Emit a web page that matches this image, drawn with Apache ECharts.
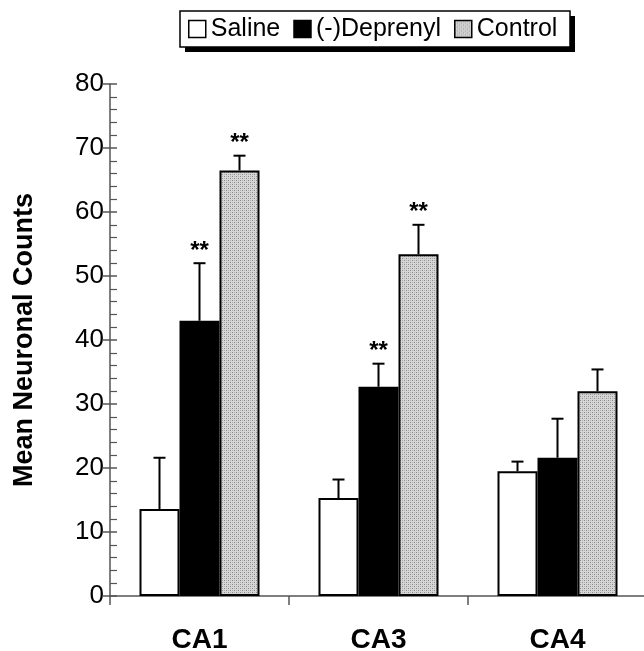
<!DOCTYPE html>
<html><head><meta charset="utf-8">
<script src="https://cdn.jsdelivr.net/npm/echarts@6/dist/echarts.min.js"></script>
<style>html,body{margin:0;padding:0;background:#fff}#c{width:644px;height:651px}</style>
</head><body><div id="c"></div>
<script>
// ---- data ----
const categories = ['CA1', 'CA3', 'CA4'];
const seriesNames = ['Saline', '(-)Deprenyl', 'Control'];
const salineMean = [13.6, 15.3, 19.5];
const salineErr = [8.0, 2.9, 1.5];
const deprenylMean = [43.0, 32.7, 21.6];
const deprenylErr = [9.0, 3.6, 6.1];
const controlMean = [66.5, 53.4, 32.0];
const controlErr = [2.3, 4.6, 3.4];
const salineSig = ['', '', ''];
const deprenylSig = ['**', '**', ''];
const controlSig = ['**', '**', ''];
const yMin = 0, yMax = 80, yInterval = 10;

// ---- styling ----
const FONT = '"Liberation Sans", Arial, sans-serif';
const BAR_W = 40;
function makePattern() {
  const c = document.createElement('canvas');
  c.width = 4; c.height = 4;
  const g = c.getContext('2d');
  g.fillStyle = '#d6d6d6'; g.fillRect(0, 0, 4, 4);
  g.fillStyle = '#8c8c8c'; g.fillRect(0, 0, 1, 1); g.fillRect(2, 2, 1, 1);
  g.fillStyle = '#b2b2b2'; g.fillRect(2, 0, 1, 1); g.fillRect(0, 2, 1, 1);
  return c;
}
const fills = ['#ffffff', '#000000', { image: makePattern(), repeat: 'repeat' }];
const means = [salineMean, deprenylMean, controlMean];
const errs = [salineErr, deprenylErr, controlErr];
const sigs = [salineSig, deprenylSig, controlSig];

const chart = echarts.init(document.getElementById('c'), null, { renderer: 'canvas' });

const barSeries = seriesNames.map((n, i) => ({
  name: n, type: 'bar', barWidth: BAR_W, barGap: '0%',
  data: means[i],
  itemStyle: { color: fills[i], borderColor: '#000', borderWidth: 2 },
  z: 2
}));

const errSeries = seriesNames.map((n, i) => ({
  name: n + ' err', type: 'custom',
  data: categories.map((c, k) => [k, means[i][k], errs[i][k]]),
  encode: { x: 0, y: 1 },
  z: 5,
  renderItem: function (params, api) {
    const ci = api.value(0), v = api.value(1), e = api.value(2);
    const base = api.coord([ci, v]);
    const top = api.coord([ci, v + e]);
    const x = base[0] + (i - 1) * BAR_W;
    const children = [
      { type: 'line', shape: { x1: x, y1: base[1], x2: x, y2: top[1] }, style: { stroke: '#000', lineWidth: 2 } },
      { type: 'line', shape: { x1: x - 6, y1: top[1], x2: x + 6, y2: top[1] }, style: { stroke: '#000', lineWidth: 2 } }
    ];
    const s = sigs[i][params.dataIndex];
    if (s) {
      children.push({ type: 'text', style: { text: s, x: x, y: top[1] - 12, align: 'center', verticalAlign: 'middle', font: 'bold 24px ' + FONT, fill: '#000' } });
    }
    return { type: 'group', children: children };
  }
}));

chart.setOption({
  animation: false,
  backgroundColor: '#fff',
  textStyle: { fontFamily: FONT },
  graphic: [
    { type: 'rect', z: 0, shape: { x: 185, y: 16, width: 390, height: 36 }, style: { fill: '#000' } },
    { type: 'rect', z: 1, shape: { x: 180, y: 11, width: 390, height: 36 }, style: { fill: '#fff', stroke: '#000', lineWidth: 1.5 } }
  ],
  grid: { left: 110, right: -3, top: 84, bottom: 55, containLabel: false, outerBoundsMode: 'none' },
  legend: {
    data: seriesNames, left: 188, top: 16, padding: 0, itemGap: 13, z: 10,
    itemWidth: 17, itemHeight: 17, icon: 'rect', selectedMode: false,
    itemStyle: { borderColor: '#000', borderWidth: 1.5 },
    textStyle: { fontFamily: FONT, fontSize: 25, color: '#000', lineHeight: 26 }
  },
  xAxis: {
    type: 'category', data: categories,
    axisLine: { show: true, lineStyle: { color: '#555', width: 1.5 } },
    axisTick: { show: true, length: 9, lineStyle: { color: '#555', width: 1.5 } },
    axisLabel: { fontFamily: FONT, fontSize: 28, fontWeight: 'bold', color: '#000', margin: 30 },
    splitLine: { show: false }
  },
  yAxis: [{
    type: 'value', min: yMin, max: yMax, interval: yInterval, position: 'left',
    name: 'Mean Neuronal Counts', nameLocation: 'middle', nameRotate: 90, nameGap: 72,
    nameTextStyle: { fontFamily: FONT, fontSize: 27, fontWeight: 'bold', color: '#000' },
    axisLine: { show: true, lineStyle: { color: '#555', width: 1.5 } },
    axisTick: { show: true, length: 7, lineStyle: { color: '#555', width: 1.5 } },
    axisLabel: { fontFamily: FONT, fontSize: 26, color: '#000', margin: 6 },
    splitLine: { show: false }
  }, {
    type: 'value', min: yMin, max: yMax, interval: yInterval, position: 'left',
    axisLine: { show: false },
    axisTick: { show: true, inside: true, length: 7, lineStyle: { color: '#555', width: 1.5 } },
    minorTick: { show: true, splitNumber: 5, length: 7, lineStyle: { color: '#555', width: 1.2 } },
    axisLabel: { show: false },
    splitLine: { show: false }
  }],
  series: barSeries.concat(errSeries)
});
</script>
</body></html>
